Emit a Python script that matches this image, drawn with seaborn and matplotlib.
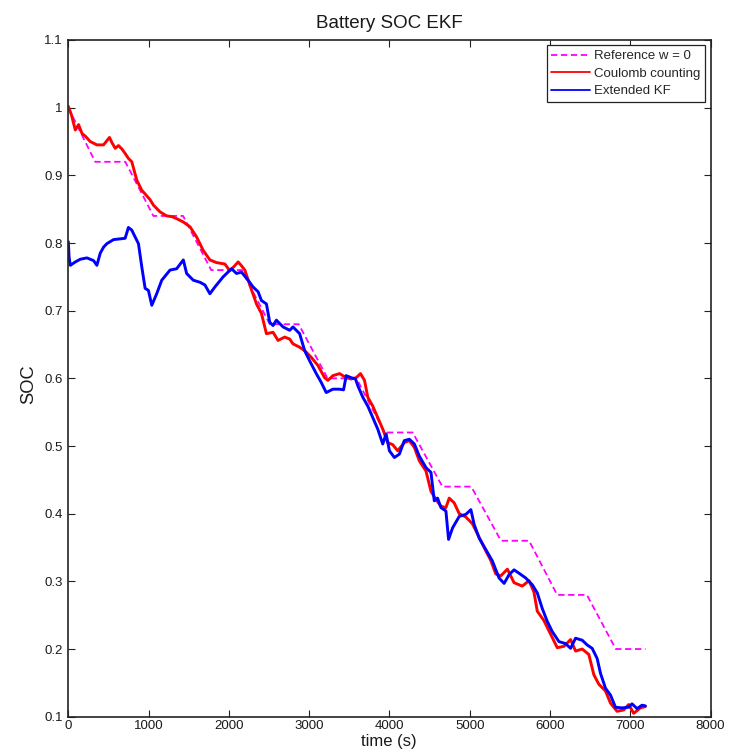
import numpy as np
import pandas as pd
import matplotlib
matplotlib.use("Agg")
import matplotlib.pyplot as plt
import seaborn as sns

# ---- data ----
t_ref = [0, 335, 710, 1060, 1430, 1780, 2160, 2510, 2870, 3230, 3590,
         3940, 4290, 4660, 5020, 5390, 5740, 6090, 6460, 6820, 7190]
soc_ref = [1.00, 0.92, 0.92, 0.84, 0.84, 0.76, 0.76, 0.68, 0.68, 0.60, 0.60,
           0.52, 0.52, 0.44, 0.44, 0.36, 0.36, 0.28, 0.28, 0.20, 0.20]

t_cc = [0, 40, 87, 128, 170, 211, 273, 356, 439, 513, 545, 584, 625, 667, 710,
        749, 791, 853, 915, 960, 1019, 1060, 1143, 1226, 1290, 1350, 1433, 1516,
        1598, 1681, 1764, 1847, 1950, 2012, 2070, 2116, 2160, 2199, 2261, 2344,
        2406, 2468, 2551, 2613, 2696, 2758, 2799, 2882, 2944, 3027, 3110, 3193,
        3234, 3296, 3379, 3462, 3524, 3586, 3640, 3690, 3731, 3793, 3855, 3917,
        3979, 4041, 4103, 4186, 4248, 4311, 4373, 4456, 4518, 4580, 4642, 4704,
        4745, 4807, 4870, 4953, 5035, 5118, 5201, 5263, 5325, 5387, 5470, 5553,
        5656, 5739, 5801, 5842, 5925, 6008, 6091, 6174, 6257, 6319, 6402, 6484,
        6547, 6609, 6692, 6754, 6836, 6919, 6981, 7043, 7127, 7189]
soc_cc = [1.002, 0.989, 0.967, 0.975, 0.962, 0.958, 0.950, 0.945, 0.945, 0.956,
          0.948, 0.940, 0.944, 0.939, 0.932, 0.925, 0.920, 0.893, 0.878, 0.872,
          0.864, 0.856, 0.846, 0.840, 0.839, 0.836, 0.831, 0.824, 0.809, 0.789,
          0.775, 0.771, 0.769, 0.759, 0.766, 0.772, 0.766, 0.760, 0.738, 0.710,
          0.696, 0.666, 0.668, 0.656, 0.661, 0.658, 0.651, 0.646, 0.641, 0.631,
          0.619, 0.601, 0.597, 0.604, 0.607, 0.601, 0.599, 0.601, 0.607, 0.597,
          0.572, 0.559, 0.542, 0.525, 0.505, 0.502, 0.493, 0.505, 0.508, 0.498,
          0.478, 0.463, 0.433, 0.421, 0.411, 0.409, 0.423, 0.416, 0.400, 0.395,
          0.385, 0.365, 0.345, 0.331, 0.311, 0.308, 0.318, 0.298, 0.293, 0.301,
          0.284, 0.256, 0.242, 0.222, 0.202, 0.204, 0.214, 0.197, 0.200, 0.192,
          0.162, 0.148, 0.138, 0.120, 0.108, 0.110, 0.118, 0.105, 0.113, 0.115]

t_ekf = [0, 10, 25, 87, 149, 232, 315, 356, 398, 440, 480, 563, 708, 749, 791,
         832, 874, 915, 957, 998, 1040, 1101, 1164, 1267, 1350, 1433, 1474, 1557,
         1640, 1702, 1764, 1826, 1929, 2033, 2095, 2157, 2240, 2302, 2364, 2406,
         2468, 2509, 2551, 2592, 2675, 2758, 2799, 2882, 2944, 3006, 3089, 3151,
         3213, 3296, 3379, 3429, 3462, 3524, 3578, 3607, 3669, 3731, 3793, 3855,
         3917, 3959, 4000, 4062, 4124, 4186, 4248, 4311, 4373, 4456, 4518, 4559,
         4600, 4642, 4704, 4737, 4787, 4870, 4953, 5015, 5056, 5118, 5201, 5283,
         5366, 5429, 5491, 5553, 5615, 5698, 5780, 5842, 5904, 5966, 6028, 6112,
         6195, 6257, 6319, 6402, 6464, 6526, 6588, 6630, 6692, 6754, 6816, 6898,
         6981, 7022, 7085, 7147, 7189]
soc_ekf = [0.802, 0.779, 0.767, 0.772, 0.776, 0.778, 0.774, 0.767, 0.785, 0.794,
           0.799, 0.805, 0.807, 0.823, 0.819, 0.809, 0.799, 0.765, 0.733, 0.730,
           0.708, 0.725, 0.745, 0.760, 0.762, 0.775, 0.755, 0.745, 0.742, 0.738,
           0.725, 0.735, 0.750, 0.762, 0.755, 0.757, 0.745, 0.735, 0.728, 0.715,
           0.710, 0.683, 0.678, 0.686, 0.676, 0.671, 0.676, 0.666, 0.641, 0.626,
           0.607, 0.594, 0.579, 0.584, 0.584, 0.583, 0.604, 0.601, 0.599, 0.589,
           0.572, 0.559, 0.542, 0.525, 0.503, 0.518, 0.493, 0.483, 0.488, 0.508,
           0.510, 0.503, 0.485, 0.468, 0.461, 0.419, 0.423, 0.409, 0.404, 0.362,
           0.379, 0.396, 0.399, 0.406, 0.384, 0.364, 0.347, 0.330, 0.305, 0.297,
           0.310, 0.317, 0.312, 0.305, 0.295, 0.283, 0.260, 0.241, 0.226, 0.211,
           0.208, 0.201, 0.216, 0.213, 0.206, 0.201, 0.186, 0.164, 0.142, 0.132,
           0.114, 0.113, 0.114, 0.119, 0.112, 0.117, 0.116]

x_ticks = [0, 1000, 2000, 3000, 4000, 5000, 6000, 7000, 8000]
y_ticks = [0.1, 0.2, 0.3, 0.4, 0.5, 0.6, 0.7, 0.8, 0.9, 1.0, 1.1]

sns.set_theme(style="ticks")
plt.rcParams['font.family'] = ['Liberation Sans', 'DejaVu Sans']
plt.rcParams['xtick.direction'] = 'in'
plt.rcParams['ytick.direction'] = 'in'
plt.rcParams['xtick.top'] = True
plt.rcParams['ytick.right'] = True

fig = plt.figure(figsize=(7.31, 7.53), dpi=100, facecolor='white')
ax = fig.add_axes([68.3 / 731, 1 - 716.7 / 753, (710.5 - 68.3) / 731, (716.7 - 40) / 753])
ax.set_facecolor('white')

df_ref = pd.DataFrame({'t': t_ref, 'soc': soc_ref})
df_cc = pd.DataFrame({'t': t_cc, 'soc': soc_cc})
df_ekf = pd.DataFrame({'t': t_ekf, 'soc': soc_ekf})

sns.lineplot(data=df_ref, x='t', y='soc', ax=ax, color='#ff00ff', lw=1.3,
             linestyle=(0, (3.5, 2)), sort=False, estimator=None, label='Reference w = 0')
sns.lineplot(data=df_cc, x='t', y='soc', ax=ax, color='#ff0000', lw=2.1,
             sort=False, estimator=None, label='Coulomb counting')
sns.lineplot(data=df_ekf, x='t', y='soc', ax=ax, color='#0000ff', lw=2.1,
             sort=False, estimator=None, label='Extended KF')

ax.set_xlim(0, 8000)
ax.set_ylim(0.1, 1.1)
ax.set_xticks(x_ticks)
ax.set_yticks(y_ticks)
ax.set_xticklabels([f"{v:g}" for v in x_ticks])
ax.set_yticklabels([f"{v:g}" for v in y_ticks])
ax.tick_params(axis='both', which='both', length=5, width=0.8, color='#222222',
               labelsize=9.5, labelcolor='#1a1a1a')
ax.tick_params(axis='y', pad=4)
ax.tick_params(axis='x', pad=2.2)
for s in ax.spines.values():
    s.set_visible(True)
    s.set_color('#222222')
    s.set_linewidth(1.2)

ax.set_title('Battery SOC EKF', fontsize=13.5, color='#1a1a1a', pad=8.6)
ax.set_xlabel('time (s)', fontsize=12, color='#1a1a1a')
ax.set_ylabel('SOC', fontsize=13.2, color='#1a1a1a')
ax.xaxis.set_label_coords(0.4985, -0.0255)
ax.yaxis.set_label_coords(-0.049, 0.492)

leg = ax.legend(loc='upper right', fontsize=9.5, frameon=True, fancybox=False,
                borderaxespad=0.4, handlelength=2.9, handletextpad=0.35,
                labelspacing=0.4, borderpad=0.35)
leg.get_frame().set_edgecolor('#222222')
leg.get_frame().set_linewidth(0.9)
leg.get_frame().set_facecolor('white')
leg.get_frame().set_alpha(1)
for line in leg.get_lines():
    line.set_linewidth(1.3)

fig.savefig('out.png', dpi=100, facecolor='white')
